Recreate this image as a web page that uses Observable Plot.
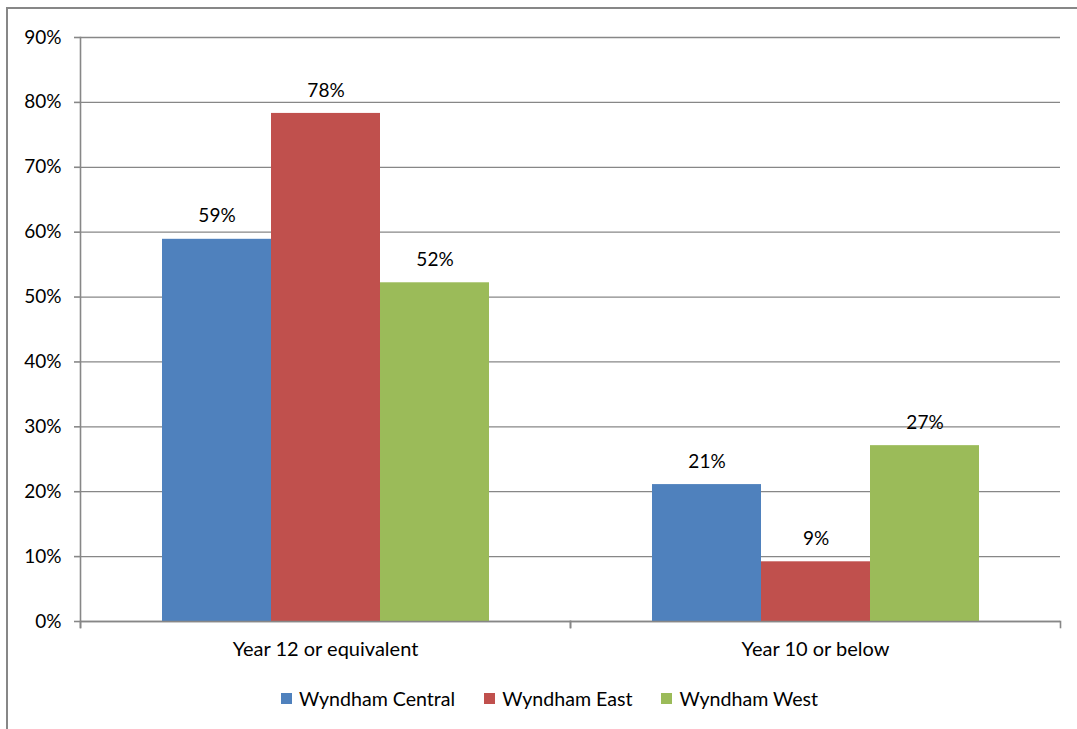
<!DOCTYPE html>
<html><head><meta charset="utf-8">
<script src="https://cdn.jsdelivr.net/npm/d3@7"></script>
<script src="https://cdn.jsdelivr.net/npm/@observablehq/plot@0.6"></script>
<style>
body{margin:0;background:#fff;font-family:Lato,sans-serif;}
#wrap{position:relative;width:1077px;height:729px;overflow:hidden;background:#fff;}
#border{position:absolute;left:6px;top:7px;width:1200px;height:1000px;border:2px solid #878787;box-sizing:border-box;}
#chart{position:absolute;left:0;top:0;}
#legend{position:absolute;left:281px;top:682px;}
.lg-swatch{margin-right:29px !important;}
.lg-swatch > svg{margin-right:7px !important;}
</style></head><body>
<div id="wrap"><div id="border"></div><div id="chart"></div><div id="legend"></div></div>
<script>
const categories = ["Year 12 or equivalent", "Year 10 or below"];
const series = ["Wyndham Central", "Wyndham East", "Wyndham West"];
const central = [0.589, 0.211];
const east = [0.783, 0.092];
const west = [0.522, 0.271];
const colors = ["#4F81BD", "#C0504D", "#9BBB59"];
const yTicks = [0, 0.1, 0.2, 0.3, 0.4, 0.5, 0.6, 0.7, 0.8, 0.9];

const values = [central, east, west];
const data = categories.flatMap((c, i) => series.map((s, j) => ({category: c, series: s, value: values[j][i]})));
const fmt = d3.format(".0%");
const gray = "#878787";

const plot = Plot.plot({
  width: 1077, height: 670,
  marginLeft: 80, marginRight: 17, marginTop: 37, marginBottom: 49,
  style: {fontFamily: "Lato, sans-serif", fontSize: "19px", color: "#000", background: "transparent"},
  fx: {domain: categories, padding: 0, label: null},
  x: {domain: series, paddingInner: 0, paddingOuter: 0.745, axis: null},
  y: {domain: [0, 0.9], ticks: yTicks, label: null},
  color: {domain: series, range: colors},
  marks: [
    Plot.gridY(yTicks, {stroke: gray, strokeOpacity: 1, strokeWidth: 1.3}),
    Plot.barY(data, {fx: "category", x: "series", y: "value", fill: "series"}),
    Plot.ruleY([0], {stroke: gray, strokeWidth: 1.6}),
    Plot.frame({anchor: "left", facet: "super", stroke: gray, strokeWidth: 1.6, insetBottom: -6}),
    Plot.frame({anchor: "left", insetTop: 584, insetBottom: -6, stroke: gray, strokeWidth: 1.6}),
    Plot.frame({anchor: "right", insetTop: 584, insetBottom: -6, stroke: gray, strokeWidth: 1.6}),
    Plot.axisY(yTicks, {tickFormat: fmt, tickSize: 6, tickPadding: 13, stroke: gray, strokeWidth: 1.6, fill: "#000", fontSize: 19}),
    Plot.axisFx({anchor: "bottom", tickSize: 0, tickPadding: 20, label: null, fill: "#000", fontSize: 20}),
    Plot.text(data, {fx: "category", x: "series", y: "value", text: d => fmt(d.value), dy: -23, fill: "#000", fontSize: 19})
  ]
});
document.getElementById("chart").appendChild(plot);

const legend = Plot.legend({
  color: {domain: series, range: colors},
  legend: "swatches",
  swatchSize: 11,
  className: "lg",
  style: {fontFamily: "Lato, sans-serif", fontSize: "19.6px", color: "#000"}
});
document.getElementById("legend").appendChild(legend);
</script>
</body></html>
